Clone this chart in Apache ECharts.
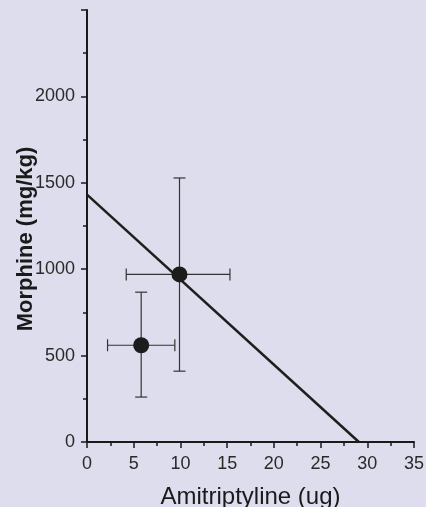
<!DOCTYPE html>
<html>
<head>
<meta charset="utf-8">
<script src="https://cdn.jsdelivr.net/npm/echarts@6/dist/echarts.min.js"></script>
<style>
  html, body { margin: 0; padding: 0; background: #dddded; }
  #chart { width: 426px; height: 507px; }
</style>
</head>
<body>
<div id="chart"></div>
<script>
// mean points (x = amitriptyline ug, y = morphine mg/kg)
const pointX = [5.8, 9.9];
const pointY = [560, 970];
// error bar extents
const xLow = [2.2, 4.2];
const xHigh = [9.4, 15.3];
const yLow = [260, 410];
const yHigh = [867, 1528];
// regression (isobole) line end points
const lineX = [0, 29.1];
const lineY = [1432, 0];

const chart = echarts.init(document.getElementById('chart'));

const errData = pointX.map((x, i) => [x, pointY[i], xLow[i], xHigh[i], yLow[i], yHigh[i]]);

const option = {
    backgroundColor: '#dddded',
    animation: false,
    grid: { left: 87, right: 12, top: 10, bottom: 65, outerBoundsMode: 'none' },
    xAxis: {
        type: 'value',
        min: 0, max: 35, interval: 5,
        name: 'Amitriptyline (ug)',
        nameLocation: 'middle',
        nameGap: 43,
        nameTextStyle: { fontFamily: 'Liberation Sans', fontSize: 24, color: '#1a1a1a' },
        axisLine: { lineStyle: { color: '#1a1a1a', width: 2 } },
        axisTick: { length: 6, lineStyle: { color: '#1a1a1a', width: 1.5 } },
        minorTick: { show: true, splitNumber: 2, length: 4, lineStyle: { color: '#1a1a1a', width: 1.5 } },
        axisLabel: { margin: 13, fontFamily: 'Liberation Sans', fontSize: 18, color: '#2a2a2a' },
        splitLine: { show: false }
    },
    yAxis: {
        type: 'value',
        min: 0, max: 2500, interval: 500,
        name: 'Morphine (mg/kg)',
        nameLocation: 'middle',
        nameGap: 50,
        nameMoveOverlap: false,
        nameTextStyle: {
            fontFamily: 'Liberation Sans', fontSize: 22, fontWeight: 'bold', color: '#1a1a1a',
            padding: [0, 26, 0, 0]
        },
        axisLine: { show: true, lineStyle: { color: '#1a1a1a', width: 2 } },
        axisTick: { show: true, length: 6, lineStyle: { color: '#1a1a1a', width: 1.5 } },
        minorTick: { show: true, splitNumber: 2, length: 4, lineStyle: { color: '#1a1a1a', width: 1.5 } },
        axisLabel: {
            margin: 12, showMaxLabel: false,
            formatter: v => String(v),
            fontFamily: 'Liberation Sans', fontSize: 18, color: '#2a2a2a'
        },
        splitLine: { show: false }
    },
    series: [
        {
            type: 'line',
            data: lineX.map((x, i) => [x, lineY[i]]),
            showSymbol: false,
            lineStyle: { color: '#1e1e1e', width: 2.5 },
            z: 2
        },
        {
            type: 'custom',
            data: errData,
            renderItem: function (params, api) {
                const c = api.coord([api.value(0), api.value(1)]);
                const l = api.coord([api.value(2), api.value(1)]);
                const r = api.coord([api.value(3), api.value(1)]);
                const b = api.coord([api.value(0), api.value(4)]);
                const t = api.coord([api.value(0), api.value(5)]);
                const cap = 6;
                const st = { stroke: '#333333', lineWidth: 1.2 };
                return {
                    type: 'group',
                    children: [
                        { type: 'line', shape: { x1: l[0], y1: c[1], x2: r[0], y2: c[1] }, style: st },
                        { type: 'line', shape: { x1: l[0], y1: c[1] - cap, x2: l[0], y2: c[1] + cap }, style: st },
                        { type: 'line', shape: { x1: r[0], y1: c[1] - cap, x2: r[0], y2: c[1] + cap }, style: st },
                        { type: 'line', shape: { x1: c[0], y1: b[1], x2: c[0], y2: t[1] }, style: st },
                        { type: 'line', shape: { x1: c[0] - cap, y1: b[1], x2: c[0] + cap, y2: b[1] }, style: st },
                        { type: 'line', shape: { x1: c[0] - cap, y1: t[1], x2: c[0] + cap, y2: t[1] }, style: st }
                    ]
                };
            },
            z: 3
        },
        {
            type: 'scatter',
            data: pointX.map((x, i) => [x, pointY[i]]),
            symbolSize: 16,
            itemStyle: { color: '#1c1c1c', opacity: 1 },
            z: 4
        }
    ]
};

chart.setOption(option);
</script>
</body>
</html>
